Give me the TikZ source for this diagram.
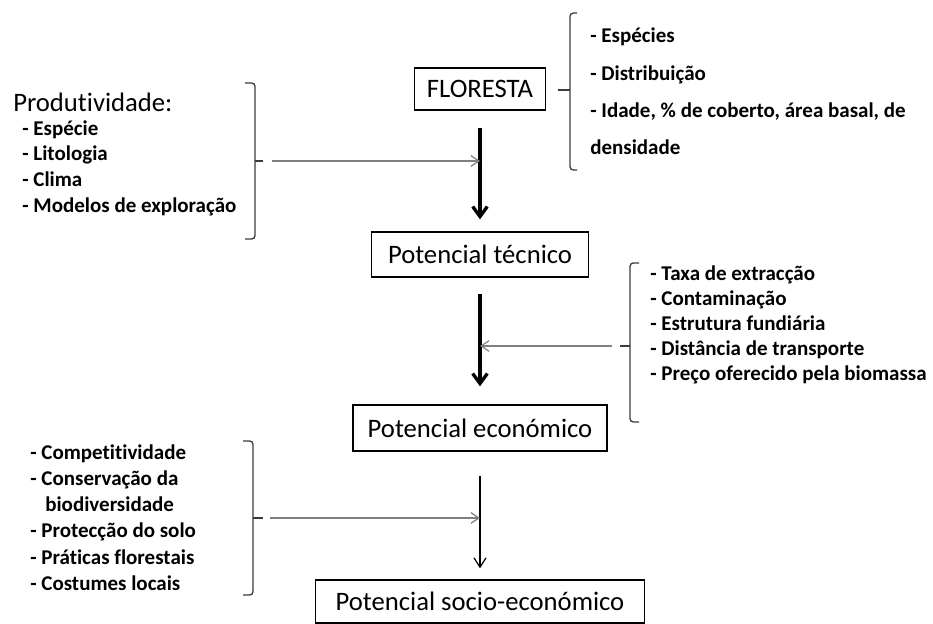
\documentclass[tikz,border=0pt]{standalone}
\usepackage{fontspec}
\setmainfont[Ligatures=NoCommon]{Carlito}
\usetikzlibrary{arrows.meta}
\definecolor{linkgray}{RGB}{128,128,128}
\definecolor{bracegray}{RGB}{60,60,60}
\begin{document}
\begin{tikzpicture}[x=0.75pt,y=-0.75pt,
  stage/.style={draw, line width=1pt, inner sep=0pt,
    font=\fontsize{20}{24}\selectfont},
  factors/.style={inner sep=0pt, align=left, anchor=west},
  mainflow/.style={line width=2.5pt, -{Straight Barb[length=7.5pt,width=11pt]}},
  thinflow/.style={line width=0.9pt, -{Straight Barb[length=7pt,width=9pt]}},
  link/.style={linkgray, line width=0.9pt, -{Straight Barb[length=6pt,width=8pt]}},
  bracket/.style={bracegray, line width=1pt, rounded corners=2.5pt}
]
% page frame
\useasboundingbox (0,0) rectangle (933,624);

% stages of the potential chain
\node[stage, minimum width=98.25pt, minimum height=31.5pt] (flo) at (480,89) {FLORESTA};
\node[stage, minimum width=162.75pt, minimum height=33.75pt] (tec) at (480,254.5) {Potencial técnico};
\node[stage, minimum width=190.5pt, minimum height=34.5pt] (eco) at (480,428) {Potencial económico};
\node[stage, minimum width=246.75pt, minimum height=32.25pt] (soc) at (480,601.5) {Potencial socio-económico};

% vertical flow
\draw[mainflow, shorten <=12.75pt, shorten >=9pt] (flo) -- (tec);
\draw[mainflow, shorten <=12pt, shorten >=13.5pt] (tec) -- (eco);
\draw[thinflow, shorten <=18pt, shorten >=8.25pt] (eco) -- (soc);

% forest attributes
\node[factors, font=\fontsize{15.75}{28.1}\bfseries] (attr) at (590,91.5)
  {- Espécies\\- Distribuição\\- Idade, \% de coberto, área basal, de\\densidade};
\draw[bracket] (577,13) -- (570,13) -- (570,170) -- (577,170);
\draw[bracket] (570,90) -- (558,90);

% productivity factors
\node[inner sep=0pt, anchor=west, font=\fontsize{20}{24}\selectfont] (prodtitle) at (13,102) {Produtividade:};
\node[factors, font=\fontsize{15.75}{19.3}\bfseries] (prod) at (22,168)
  {- Espécie\\- Litologia\\- Clima\\- Modelos de exploração};
\draw[bracket] (245,83) -- (255,83) -- (255,239) -- (245,239);
\draw[bracket] (255,161) -- (263,161);
\coordinate (prodlink) at (272,161);
\coordinate (prodjoin) at (480,161);
\draw[link] (prodlink) -- (prodjoin);

% economic factors
\node[factors, font=\fontsize{15.75}{18.75}\bfseries] (econ) at (650,325)
  {- Taxa de extracção\\- Contaminação\\- Estrutura fundiária\\- Distância de transporte\\- Preço oferecido pela biomassa};
\draw[bracket] (639,263) -- (630,263) -- (630,422) -- (639,422);
\draw[bracket] (630,346) -- (620,346);
\coordinate (econlink) at (612,346);
\coordinate (econjoin) at (480,346);
\draw[link] (econlink) -- (econjoin);

% socio-economic factors
\node[factors, font=\fontsize{15.75}{19.65}\bfseries] (socf) at (30,517.5)
  {- Competitividade\\- Conservação da\\\hspace*{11.25pt}biodiversidade\\- Protecção do solo\\- Práticas florestais\\- Costumes locais};
\draw[bracket] (243,441) -- (253,441) -- (253,595) -- (243,595);
\draw[bracket] (253,518) -- (263,518);
\coordinate (soclink) at (270,518);
\coordinate (socjoin) at (480,518);
\draw[link] (soclink) -- (socjoin);
\end{tikzpicture}
\end{document}
